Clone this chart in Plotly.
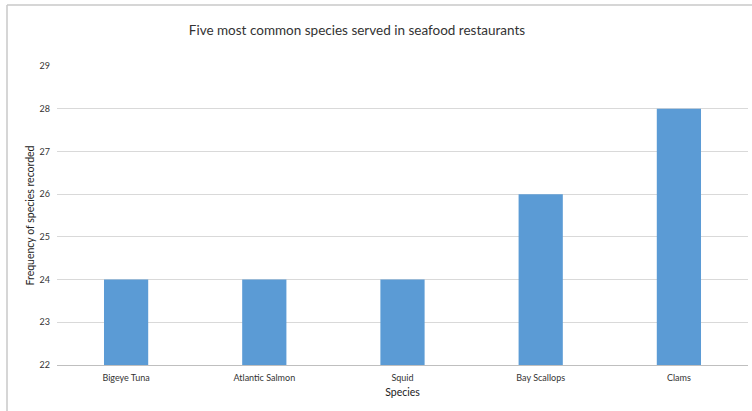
import plotly.graph_objects as go

# Survey counts per species
species = ["Bigeye Tuna", "Atlantic Salmon", "Squid", "Bay Scallops", "Clams"]
frequency = [24, 24, 24, 26, 28]
y_ticks = [22, 23, 24, 25, 26, 27, 28, 29]

W, H = 752, 411
L, R, T, B = 57, 4, 66, 46
plot_w = W - L - R
plot_h = H - T - B

def px_x(px):
    return (px - L) / plot_w

def px_y(py):
    return (H - B - py) / plot_h

fig = go.Figure(
    go.Bar(
        x=species,
        y=frequency,
        marker=dict(color="#5B9BD5", line=dict(width=0)),
        width=0.32,
    )
)

fig.update_layout(
    width=W,
    height=H,
    margin=dict(l=L, r=R, t=T, b=B),
    paper_bgcolor="white",
    plot_bgcolor="white",
    font=dict(family="Lato, Open Sans, sans-serif", color="#333333"),
    showlegend=False,
    title=dict(
        text="Five most common species served in seafood restaurants",
        x=357 / W,
        xanchor="center",
        y=1 - 30 / H,
        yanchor="middle",
        font=dict(size=13.5, color="#333333"),
    ),
    xaxis=dict(
        showgrid=False,
        showline=True,
        linecolor="#BFBFBF",
        linewidth=1,
        ticks="",
        ticklabelstandoff=4,
        tickfont=dict(size=9, color="#333333"),
        title=dict(text="Species", font=dict(size=10.5, color="#222222"), standoff=6),
    ),
    yaxis=dict(
        range=[22, 29],
        tickvals=y_ticks,
        ticktext=[str(v) for v in y_ticks],
        showgrid=True,
        gridcolor="#D9D9D9",
        gridwidth=1,
        zeroline=False,
        showline=False,
        ticks="",
        ticklabelstandoff=6,
        tickfont=dict(size=9, color="#333333"),
        title=dict(text="Frequency of species recorded", font=dict(size=10.5, color="#222222"), standoff=2),
    ),
    shapes=[
        # frame edges around the chart object
        dict(type="line", xref="paper", yref="paper",
             x0=px_x(7), x1=px_x(752), y0=px_y(5), y1=px_y(5),
             line=dict(color="#C8C8C8", width=1.5)),
        dict(type="line", xref="paper", yref="paper",
             x0=px_x(7), x1=px_x(7), y0=px_y(5), y1=px_y(411),
             line=dict(color="#C8C8C8", width=1.5)),
    ],
)

fig.write_html("out.html")
